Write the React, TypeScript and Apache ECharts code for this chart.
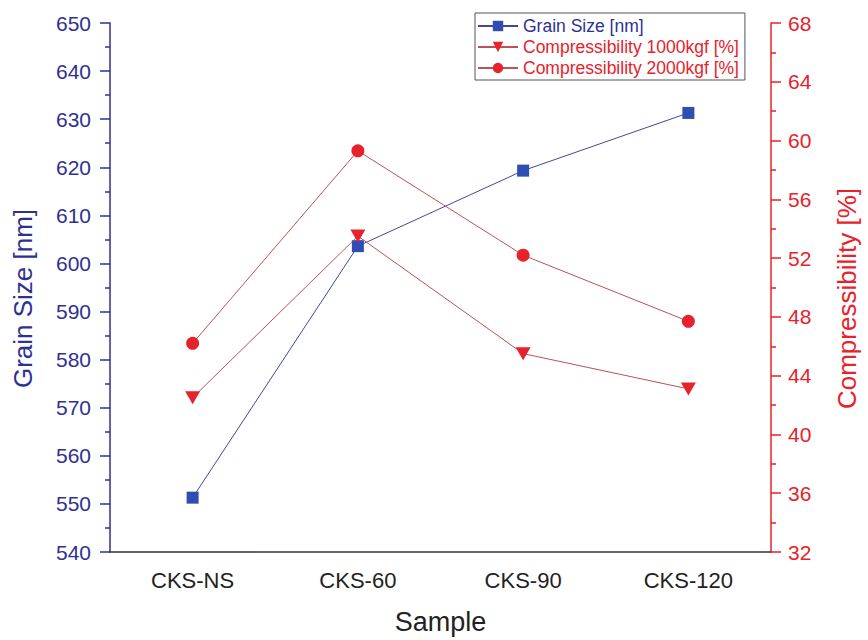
import React, { useEffect, useRef } from "react";
import * as echarts from "echarts";

const categories = ["CKS-NS", "CKS-60", "CKS-90", "CKS-120"];
const grainSize = [551.3, 603.6, 619.3, 631.3];
const comp1000 = [42.5, 53.5, 45.5, 43.1];
const comp2000 = [46.2, 59.3, 52.2, 47.7];

const FONT = "Liberation Sans";
const NAVY = "#2E3192";
const BLUE_MARK = "#2F4DB3";
const BLUE_LINE = "#45459A";
const RED = "#E8222A";
const RED_LINE = "#BE5057";

export default function App() {
  const ref = useRef<HTMLDivElement>(null);
  useEffect(() => {
    if (!ref.current) return;
    const chart = echarts.init(ref.current, null, { renderer: "svg" });
    chart.setOption({
      animation: false,
      backgroundColor: "#ffffff",
      textStyle: { fontFamily: FONT },
      grid: { left: 110, right: 95, top: 23, bottom: 83 },
      legend: {
        orient: "vertical",
        left: 475,
        top: 13,
        padding: [4, 6, 3, 2],
        borderColor: "#555",
        borderWidth: 1,
        itemWidth: 40,
        itemHeight: 13,
        itemGap: 3,
        textStyle: { fontFamily: FONT, fontSize: 17.5 },
        data: [
          { name: "Grain Size [nm]", textStyle: { color: NAVY } },
          { name: "Compressibility 1000kgf [%]", textStyle: { color: RED } },
          { name: "Compressibility 2000kgf [%]", textStyle: { color: RED } },
        ],
      },
      xAxis: [
        {
          type: "category",
          data: categories,
          boundaryGap: true,
          name: "Sample",
          nameLocation: "middle",
          nameGap: 56,
          nameTextStyle: { fontFamily: FONT, fontSize: 27, color: "#222" },
          axisLine: { lineStyle: { color: "#333", width: 1.5 } },
          axisTick: { alignWithLabel: true, length: 10, lineStyle: { color: "#333", width: 1.5 } },
          axisLabel: { fontFamily: FONT, fontSize: 22, color: "#222", margin: 17 },
          splitLine: { show: false },
        },
        {
          type: "category",
          data: categories,
          boundaryGap: true,
          position: "bottom",
          axisLine: { show: false },
          axisTick: { alignWithLabel: false, length: 6, lineStyle: { color: "#333", width: 1.5 } },
          axisLabel: { show: false },
          splitLine: { show: false },
        },
      ],
      yAxis: [
        {
          type: "value",
          min: 540,
          max: 650,
          interval: 10,
          position: "left",
          name: "Grain Size [nm]",
          nameLocation: "middle",
          nameRotate: 90,
          nameGap: 74,
          nameTextStyle: { fontFamily: FONT, fontSize: 26, color: NAVY, padding: [0, 22, 0, 0] },
          axisLine: { show: true, lineStyle: { color: NAVY, width: 1.5 } },
          axisTick: { show: true, length: 10, lineStyle: { color: NAVY, width: 1.5 } },
          minorTick: { show: true, splitNumber: 2, length: 5, lineStyle: { color: NAVY, width: 1.5 } },
          axisLabel: { fontFamily: FONT, fontSize: 21, color: NAVY, margin: 19 },
          splitLine: { show: false },
          minorSplitLine: { show: false },
        },
        {
          type: "value",
          min: 32,
          max: 68,
          interval: 4,
          position: "right",
          name: "Compressibility [%]",
          nameLocation: "middle",
          nameRotate: 90,
          nameGap: 63,
          nameTextStyle: { fontFamily: FONT, fontSize: 26, color: RED, padding: [0, 22, 0, 0] },
          axisLine: { show: true, lineStyle: { color: RED, width: 1.5 } },
          axisTick: { show: true, length: 10, lineStyle: { color: RED, width: 1.5 } },
          minorTick: { show: true, splitNumber: 2, length: 5, lineStyle: { color: RED, width: 1.5 } },
          axisLabel: { fontFamily: FONT, fontSize: 21, color: RED, margin: 17 },
          splitLine: { show: false },
          minorSplitLine: { show: false },
        },
      ],
      series: [
        {
          name: "Grain Size [nm]",
          type: "line",
          xAxisIndex: 0,
          yAxisIndex: 0,
          data: grainSize,
          symbol: "rect",
          symbolSize: 12,
          itemStyle: { color: BLUE_MARK },
          lineStyle: { color: BLUE_LINE, width: 1 },
          z: 3,
        },
        {
          name: "Compressibility 1000kgf [%]",
          type: "line",
          xAxisIndex: 0,
          yAxisIndex: 1,
          data: comp1000,
          symbol: "path://M0,0 L10,0 L5,8.7 Z",
          symbolSize: [15, 13],
          itemStyle: { color: RED },
          lineStyle: { color: RED_LINE, width: 1 },
          z: 4,
        },
        {
          name: "Compressibility 2000kgf [%]",
          type: "line",
          xAxisIndex: 0,
          yAxisIndex: 1,
          data: comp2000,
          symbol: "circle",
          symbolSize: 13,
          itemStyle: { color: RED },
          lineStyle: { color: RED_LINE, width: 1 },
          z: 4,
        },
      ],
    });
    return () => chart.dispose();
  }, []);
  return (
    <div
      ref={ref}
      style={{ position: "fixed", left: 0, top: 0, width: 868, height: 640, background: "#fff" }}
    />
  );
}
